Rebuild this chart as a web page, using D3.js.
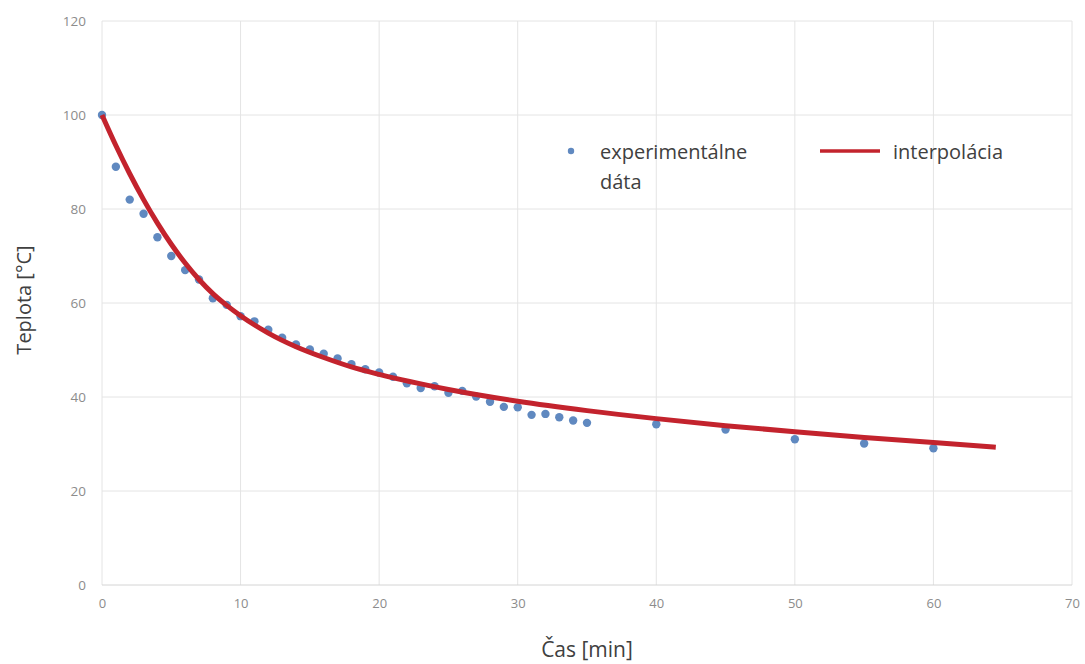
<!DOCTYPE html>
<html>
<head>
<meta charset="utf-8">
<script src="https://cdn.jsdelivr.net/npm/d3@7"></script>
<style>
    body { margin: 0; background: #fff; }
    #chart text { font-family: "Open Sans", sans-serif; }
</style>
</head>
<body>
<div id="chart"></div>
<script>
// measured cooling data
let timeData = [0, 1, 2, 3, 4, 5, 6, 7, 8, 9, 10, 11, 12, 13, 14, 15, 16, 17, 18, 19, 20,
    21, 22, 23, 24, 25, 26, 27, 28, 29, 30, 31, 32, 33, 34, 35, 40, 45, 50, 55, 60];
let tempData = [100, 89, 82, 79, 74, 70, 67, 65, 61, 59.6, 57.2, 56.1, 54.3, 52.6, 51.2, 50.1, 49.2, 48.2, 47, 45.9, 45.2,
    44.3, 42.9, 41.9, 42.3, 40.9, 41.3, 40.1, 39, 37.9, 37.8, 36.2, 36.4, 35.7, 35, 34.5, 34.2, 33.1, 31, 30.1, 29.1];

// fitted curve
let fitTime = [0, 1, 2, 3, 4, 5, 6, 7, 8, 9, 10, 12, 14, 16, 18, 20, 25, 30, 35, 40, 45, 50, 55, 60, 64.5];
let fitTemp = [100, 93.5, 87.5, 82, 77, 72.5, 68.5, 65, 62, 59.5, 57.3, 53.6, 50.7, 48.4, 46.4, 44.8, 41.6, 39.1, 37.1, 35.4, 33.9, 32.6, 31.4, 30.3, 29.3];

let xTicks = [0, 10, 20, 30, 40, 50, 60, 70];
let yTicks = [0, 20, 40, 60, 80, 100, 120];

let width = 1085, height = 664;
let margin = {top: 21, right: 13, bottom: 79, left: 102};

let svg = d3.select("#chart")
    .append("svg")
    .attr("width", width)
    .attr("height", height);

let x = d3.scaleLinear().domain([0, 70]).range([margin.left, width - margin.right]);
let y = d3.scaleLinear().domain([0, 120]).range([height - margin.bottom, margin.top]);

// grid
svg.append("g")
    .attr("class", "grid")
    .selectAll("line.v")
    .data(xTicks)
    .enter().append("line")
    .attr("x1", d => x(d)).attr("x2", d => x(d))
    .attr("y1", y(0)).attr("y2", y(120))
    .attr("stroke", "#e4e4e4")
    .attr("stroke-width", 1);

svg.append("g")
    .attr("class", "grid")
    .selectAll("line.h")
    .data(yTicks)
    .enter().append("line")
    .attr("x1", x(0)).attr("x2", x(70))
    .attr("y1", d => y(d)).attr("y2", d => y(d))
    .attr("stroke", d => d === 0 ? "#d4d4d4" : "#e4e4e4")
    .attr("stroke-width", 1);

// axes (labels only)
let xAxis = svg.append("g")
    .attr("transform", "translate(0," + (y(0) + 8) + ")")
    .call(d3.axisBottom(x).tickValues(xTicks).tickSize(0).tickPadding(6));
xAxis.select(".domain").remove();
xAxis.selectAll("text").attr("fill", "#8c8c8c").style("font-size", "13px");

let yAxis = svg.append("g")
    .attr("transform", "translate(" + (x(0) - 12) + ",0)")
    .call(d3.axisLeft(y).tickValues(yTicks).tickSize(0).tickPadding(4));
yAxis.select(".domain").remove();
yAxis.selectAll("text").attr("fill", "#8c8c8c").style("font-size", "13.5px");

// axis titles
svg.append("text")
    .attr("x", (x(0) + x(70)) / 2)
    .attr("y", 657)
    .attr("text-anchor", "middle")
    .attr("fill", "#404040")
    .style("font-size", "21px")
    .text("Čas [min]");

svg.append("text")
    .attr("transform", "translate(31," + (y(60) - 3) + ") rotate(-90)")
    .attr("text-anchor", "middle")
    .attr("fill", "#404040")
    .style("font-size", "20px")
    .text("Teplota [°C]");

// points
svg.append("g")
    .selectAll("circle")
    .data(timeData.map((t, i) => ({t: t, v: tempData[i]})))
    .enter().append("circle")
    .attr("cx", d => x(d.t))
    .attr("cy", d => y(d.v))
    .attr("r", 4.2)
    .attr("fill", "#6089c0");

// fitted line
let line = d3.line()
    .x(d => x(d.t))
    .y(d => y(d.v))
    .curve(d3.curveMonotoneX);

svg.append("path")
    .datum(fitTime.map((t, i) => ({t: t, v: fitTemp[i]})))
    .attr("d", line)
    .attr("fill", "none")
    .attr("stroke", "#c3232d")
    .attr("stroke-width", 5)
    .attr("stroke-linecap", "butt");

// legend
let legend = svg.append("g").attr("class", "legend");

legend.append("circle")
    .attr("cx", 571).attr("cy", 151).attr("r", 3.2)
    .attr("fill", "#6089c0");

legend.append("text")
    .attr("x", 600).attr("y", 159)
    .attr("fill", "#404040")
    .style("font-size", "20px")
    .text("experimentálne");

legend.append("text")
    .attr("x", 600).attr("y", 189)
    .attr("fill", "#404040")
    .style("font-size", "20px")
    .text("dáta");

legend.append("line")
    .attr("x1", 820).attr("x2", 880)
    .attr("y1", 151).attr("y2", 151)
    .attr("stroke", "#c3232d")
    .attr("stroke-width", 3.5);

legend.append("text")
    .attr("x", 893).attr("y", 159)
    .attr("fill", "#404040")
    .style("font-size", "20px")
    .text("interpolácia");
</script>
</body>
</html>
